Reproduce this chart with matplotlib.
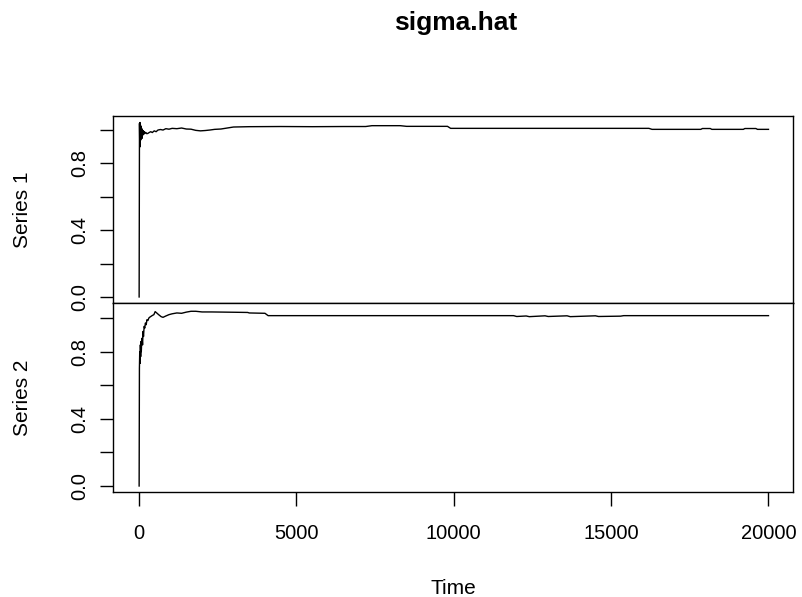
import matplotlib
matplotlib.use("Agg")
import matplotlib.pyplot as plt
from matplotlib.ticker import FixedLocator, FuncFormatter

plt.rcParams['font.family'] = ['Liberation Sans', 'DejaVu Sans']

title = "sigma.hat"
xlabel = "Time"
series_names = ["Series 1", "Series 2"]

# Series 1 (key points)
s1_time = [1, 12, 20, 28, 36, 44, 52, 60, 70, 80, 92, 105, 120, 135, 150, 170,
           190, 215, 245, 280, 320, 370, 420, 480, 540, 600, 680, 760, 850,
           950, 1050, 1200, 1350, 1500, 1650, 1800, 1950, 2100, 2250, 2400,
           2600, 2800, 3000, 3500, 4500, 5500, 6500, 7200, 7400, 8300, 8500,
           9800, 9900, 16200, 16300, 17850, 17900, 18150, 18200, 19200, 19250,
           19600, 19650, 20000]
s1_vals = [0.00, 1.04, 0.93, 1.045, 0.90, 1.03, 0.94, 1.02, 0.96, 1.01, 0.95,
           1.00, 0.97, 0.995, 0.975, 0.99, 0.98, 0.985, 0.978, 0.98, 0.985,
           0.99, 0.985, 0.995, 0.99, 1.00, 1.003, 1.0, 1.008, 1.005, 1.01,
           1.008, 1.012, 1.006, 1.005, 0.998, 0.995, 0.997, 1.0, 1.004,
           1.006, 1.012, 1.018, 1.02, 1.021, 1.02, 1.021, 1.021, 1.026, 1.026,
           1.022, 1.022, 1.01, 1.01, 1.004, 1.004, 1.009, 1.009, 1.004, 1.004,
           1.009, 1.009, 1.004, 1.004]

# Series 2 (key points)
s2_time = [1, 10, 20, 30, 40, 50, 60, 70, 80, 95, 110, 125, 140, 160, 180,
           200, 225, 250, 280, 310, 340, 380, 420, 470, 510, 560, 620, 700,
           760, 850, 950, 1050, 1200, 1350, 1500, 1650, 1800, 2000, 2300,
           2700, 3100, 3450, 3500, 4000, 4100, 11900, 12000, 12300, 12400,
           12900, 13000, 13600, 13700, 14500, 14600, 15300, 15400, 20000]
s2_vals = [0.00, 0.70, 0.80, 0.73, 0.84, 0.77, 0.86, 0.80, 0.85, 0.88, 0.84,
           0.92, 0.89, 0.95, 0.94, 0.97, 0.96, 0.99, 0.985, 1.0, 1.005, 1.01,
           1.015, 1.02, 1.038, 1.03, 1.02, 1.008, 1.004, 1.012, 1.02, 1.025,
           1.03, 1.028, 1.035, 1.04, 1.04, 1.036, 1.036, 1.035, 1.034, 1.033,
           1.03, 1.028, 1.014, 1.014, 1.009, 1.012, 1.008, 1.013, 1.009,
           1.013, 1.008, 1.013, 1.009, 1.011, 1.014, 1.014]

x_ticks = [0, 5000, 10000, 15000, 20000]
y_ticks = [0.0, 0.2, 0.4, 0.6, 0.8, 1.0]
y_labeled = [0.0, 0.4, 0.8]

W, H = 802, 597
fig = plt.figure(figsize=(W / 100, H / 100), dpi=100)

left, right = 113.3, 792.7
top1, mid, bot2 = 116.0, 303.3, 491.7
aw = right - left

ax1 = fig.add_axes([left / W, (H - mid) / H, aw / W, (mid - top1) / H])
ax2 = fig.add_axes([left / W, (H - bot2) / H, aw / W, (bot2 - mid) / H])

fs = 14.5

def fmt(v, pos):
    for t in y_labeled:
        if abs(v - t) < 1e-9:
            return f"{t:.1f}"
    return ""

for ax, t, v, name, yl in [(ax1, s1_time, s1_vals, series_names[0], (-0.038, 1.084)),
                           (ax2, s2_time, s2_vals, series_names[1], (-0.034, 1.0875))]:
    ax.plot(t, v, color='black', lw=1.0)
    ax.set_xlim(-820, 20770)
    ax.set_ylim(*yl)
    ax.yaxis.set_major_locator(FixedLocator(y_ticks))
    ax.yaxis.set_major_formatter(FuncFormatter(fmt))
    ax.tick_params(axis='y', length=9.5, width=1.0, labelsize=fs, pad=8,
                   labelrotation=90)
    for lab in ax.get_yticklabels():
        lab.set_va('center')
    ax.set_ylabel(name, fontsize=fs + 0.5)
    for sp in ax.spines.values():
        sp.set_linewidth(1.0)
    ax.yaxis.set_label_coords((32 - left) / aw, 0.5)

ax1.xaxis.set_major_locator(FixedLocator(x_ticks))
ax1.tick_params(axis='x', bottom=False, labelbottom=False)
ax2.xaxis.set_major_locator(FixedLocator(x_ticks))
ax2.tick_params(axis='x', length=10, width=1.0, labelsize=fs, pad=13)
ax2.set_xlabel(xlabel, fontsize=fs + 0.5, labelpad=26)

fig.text(456 / W, 1 - 23 / H, title, fontsize=19, fontweight='bold',
         ha='center', va='center')

fig.savefig("out.png", dpi=100)
